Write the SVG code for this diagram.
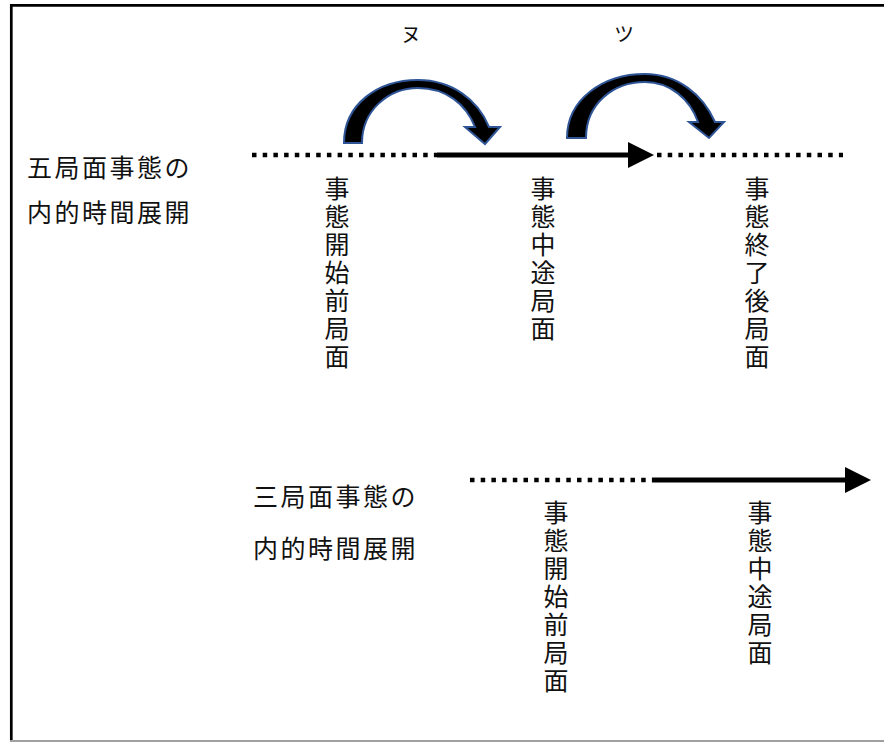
<svg xmlns="http://www.w3.org/2000/svg" width="884" height="742" viewBox="0 0 884 742">
<style>
.t{font-family:"Noto Sans CJK JP","Noto Sans CJK SC",sans-serif;font-size:25px;fill:#111;}
.h{letter-spacing:2.5px;}
.v{writing-mode:vertical-rl;letter-spacing:3px;}
.k{font-family:"Noto Sans CJK JP",sans-serif;font-size:20px;fill:#111;text-anchor:middle;}
.dot{stroke:#000;stroke-width:4.5;stroke-dasharray:4.5 6.2;fill:none;}
.sol{stroke:#000;stroke-width:5;fill:none;}
.curve{fill:#000;stroke:#2F5597;stroke-width:2;stroke-linejoin:miter;}
</style>
<rect width="884" height="742" fill="#fff"/>
<g id="frame">
<line x1="10" y1="5.3" x2="884" y2="5.3" stroke="#000" stroke-width="2.7"/>
<line x1="11.3" y1="4" x2="11.3" y2="741" stroke="#000" stroke-width="2.7"/>
<line x1="10" y1="741" x2="884" y2="741" stroke="#a0a0a0" stroke-width="2"/>
</g>
<g id="connectors">
<line class="dot" x1="252" y1="155" x2="437" y2="155"/>
<line class="sol" x1="437" y1="155" x2="630" y2="155"/>
<polygon points="628,142 654,155 628,168" fill="#000"/>
<line class="dot" x1="657" y1="155" x2="843" y2="155"/>
<line class="dot" x1="470" y1="480" x2="652" y2="480"/>
<line class="sol" x1="652" y1="480" x2="847" y2="480"/>
<polygon points="845,467 871,480 845,493" fill="#000"/>
<path class="curve" d="M344,143 C344,104 378,80 418,80 C452,80 478,100 489,127 L500,127 L485,144 L465,127 L475,127 C466,104 446,88 418,88 C389,88 362,110 362,143 Z"/>
<path class="curve" d="M567,138 C567,100 602,74 645,74 C678,74 703,95 715,122 L724,122 L709,138 L689,122 L698,122 C690,99 670,82 645,82 C613,82 586,104 586,138 Z"/>
</g>
<g id="label-nu"><text class="k" x="411" y="42">ヌ</text></g>
<g id="label-tsu"><text class="k" x="624" y="42">ツ</text></g>
<g id="five-phase-title">
<text class="t h" x="27" y="177">五局面事態の</text>
<text class="t h" x="27" y="222">内的時間展開</text>
</g>
<g id="three-phase-title">
<text class="t h" x="253" y="506">三局面事態の</text>
<text class="t h" x="253" y="558">内的時間展開</text>
</g>
<g id="n1"><text class="t v" x="337" y="176">事態開始前局面</text></g>
<g id="n2"><text class="t v" x="543" y="176">事態中途局面</text></g>
<g id="n3"><text class="t v" x="757" y="176">事態終了後局面</text></g>
<g id="n4"><text class="t v" x="556" y="500">事態開始前局面</text></g>
<g id="n5"><text class="t v" x="760" y="500">事態中途局面</text></g>
</svg>
